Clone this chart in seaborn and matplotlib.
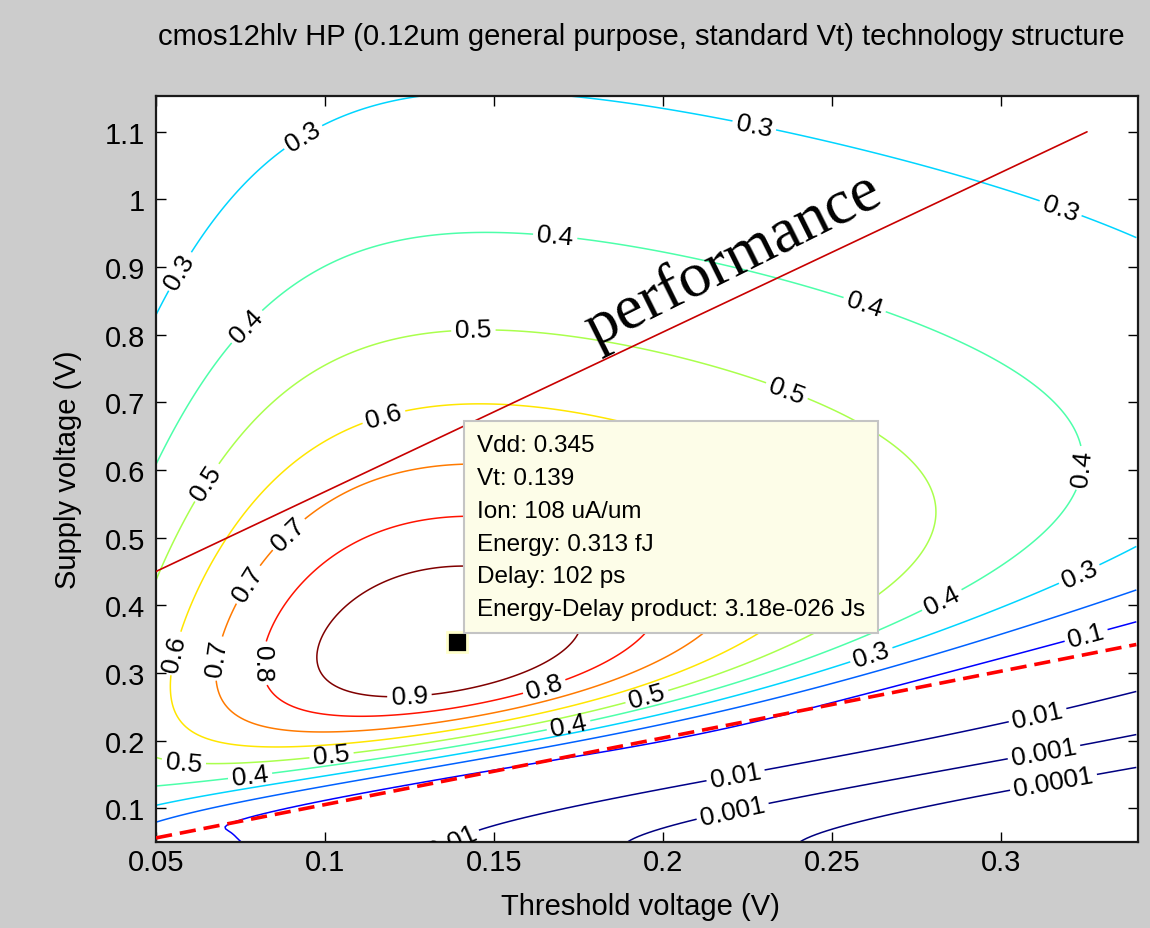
import numpy as np
import matplotlib
matplotlib.use("Agg")
import matplotlib.pyplot as plt
import seaborn as sns

# ---- text content
title = "cmos12hlv HP (0.12um general purpose, standard Vt) technology structure"
x_label = "Threshold voltage (V)"
y_label = "Supply voltage (V)"
tip_lines = ["Vdd: 0.345", "Vt: 0.139", "Ion: 108 uA/um", "Energy: 0.313 fJ",
             "Delay: 102 ps", "Energy-Delay product: 3.18e-026 Js"]

# ---- optimum operating point (from the data tip)
opt_vt = 0.139
opt_vdd = 0.345

# ---- constant-performance line and the Vdd = Vt boundary
perf_vt = [0.05, 0.3254]
perf_vdd = [0.45, 1.10]
bound_vt = [0.05, 0.34]
bound_vdd = [0.056, 0.342]

# ---- contour levels of normalised 1/EDP
levels = [0.0001, 0.001, 0.01, 0.1, 0.2, 0.3, 0.4, 0.5, 0.6, 0.7, 0.8, 0.9]

# ---- ticks
x_ticks = [0.05, 0.1, 0.15, 0.2, 0.25, 0.3]
x_tick_labels = ["0.05", "0.1", "0.15", "0.2", "0.25", "0.3"]
y_ticks = [0.1, 0.2, 0.3, 0.4, 0.5, 0.6, 0.7, 0.8, 0.9, 1.0, 1.1]
y_tick_labels = ["0.1", "0.2", "0.3", "0.4", "0.5", "0.6", "0.7", "0.8", "0.9", "1", "1.1"]

# ---- device model (alpha-power law with subthreshold tail and leakage energy)
ALPHA = 2.15       # above-threshold current exponent
THETA = 7.3        # high-field degradation, 1/V
LOG_I0 = -7.0      # subthreshold current scale (log)
PHI_ON = 0.025     # subthreshold slope of the on-current, V
SMOOTH = 0.004     # threshold corner smoothing, V
R_LEAK = 0.56234   # leakage-to-switching weight
PHI_OFF = 0.03486  # off-current slope, V
KAPPA = 0.85       # delay weighting of leakage energy


def log_edp(vt, vdd):
    vov = vdd - vt
    strong = (SMOOTH * np.logaddexp(0, vov / SMOOTH)) ** ALPHA / (1 + THETA * np.maximum(vov, 0))
    sub = np.exp(LOG_I0 - np.logaddexp(0, -vov / PHI_ON))
    lion = np.log(strong + sub)
    lioff = -vt / PHI_OFF
    return 3 * np.log(vdd) + np.log1p(R_LEAK * np.exp(lioff - KAPPA * lion)) - lion


vt = np.linspace(0.05, 0.34, 300)
vdd = np.linspace(0.05, 1.16, 400)
VT, VDD = np.meshgrid(vt, vdd)
L = log_edp(VT, VDD)
M = np.exp(L.min() - L)

# ---- figure
sns.set_theme(style="white")
plt.rcParams["font.family"] = ["Liberation Sans", "DejaVu Sans"]
plt.rcParams["text.color"] = "black"
fig = plt.figure(figsize=(11.5, 9.29), dpi=100, facecolor="#cccccc")
ax = fig.add_axes([0.1357, 0.0926, 0.8539, 0.803])
ax.set_facecolor("white")

cs = ax.contour(VT, VDD, M, levels=levels, cmap="jet", vmin=0, vmax=0.9, linewidths=1.1)
label_at = [(0.095, 1.08), (0.2257, 1.078), (0.316, 0.964), (0.0556, 0.898),
            (0.1675, 0.915), (0.258, 0.82), (0.325, 0.602), (0.080, 0.797),
            (0.144, 0.777), (0.236, 0.709), (0.0645, 0.583), (0.281, 0.422),
            (0.119, 0.65), (0.0556, 0.329), (0.0586, 0.189),
            (0.079, 0.425), (0.0675, 0.322), (0.0926, 0.487), (0.082, 0.314),
            (0.165, 0.277), (0.125, 0.262), (0.102, 0.174), (0.078, 0.14),
            (0.1956, 0.258), (0.172, 0.223), (0.261, 0.336), (0.325, 0.425),
            (0.325, 0.358), (0.31, 0.255), (0.313, 0.174), (0.317, 0.097),
            (0.2207, 0.169), (0.221, 0.085), (0.131, 0.082)]
ax.clabel(cs, fmt="%g", fontsize=19, colors="black", manual=label_at, inline_spacing=4)

sns.lineplot(x=perf_vt, y=perf_vdd, ax=ax, color="#c80000", lw=1.2, zorder=4)
sns.lineplot(x=bound_vt, y=bound_vdd, ax=ax, color="red", lw=2.6, zorder=4)
ax.lines[-1].set_dashes((4.5, 2.2))
ax.text(0.180, 0.784, "performance", family="Liberation Serif", fontsize=46,
        rotation=26.5, rotation_mode="anchor", ha="left", va="baseline", zorder=5)

ax.plot([opt_vt], [opt_vdd], marker="s", ms=14, color="black", mec="#ffffcc", mew=2,
        ls="none", zorder=6)
ax.annotate("\n".join(tip_lines), xy=(opt_vt, opt_vdd), xytext=(14.4, 149.8),
            textcoords="offset points", ha="left", va="top", fontsize=17.5,
            linespacing=1.63, zorder=7, color="black",
            bbox=dict(boxstyle="square,pad=0.54", fc="#fdfde8", ec="#c4c4c4", lw=1.5))

ax.set_xlim(0.05, 0.3405)
ax.set_ylim(0.05, 1.153)
ax.set_xticks(x_ticks)
ax.set_xticklabels(x_tick_labels)
ax.set_yticks(y_ticks)
ax.set_yticklabels(y_tick_labels)
ax.tick_params(direction="in", length=7, width=1, colors="black", labelsize=21,
               top=True, right=True, bottom=True, left=True)
ax.tick_params(axis="x", pad=4)
ax.tick_params(axis="y", pad=8)
for sp in ax.spines.values():
    sp.set_color("#1a1a1a")
    sp.set_linewidth(1.6)
ax.set_xlabel("")
ax.set_ylabel("")

fig.text(0.5575, 1 - 45 / 929, title, ha="center", va="baseline", fontsize=21)
fig.text(640 / 1150, 1 - 907 / 929, x_label, ha="center", va="center", fontsize=21)
fig.text(68 / 1150, 1 - 470 / 929, y_label, ha="center", va="center", rotation=90, fontsize=21)

fig.savefig("out.png", facecolor=fig.get_facecolor())
